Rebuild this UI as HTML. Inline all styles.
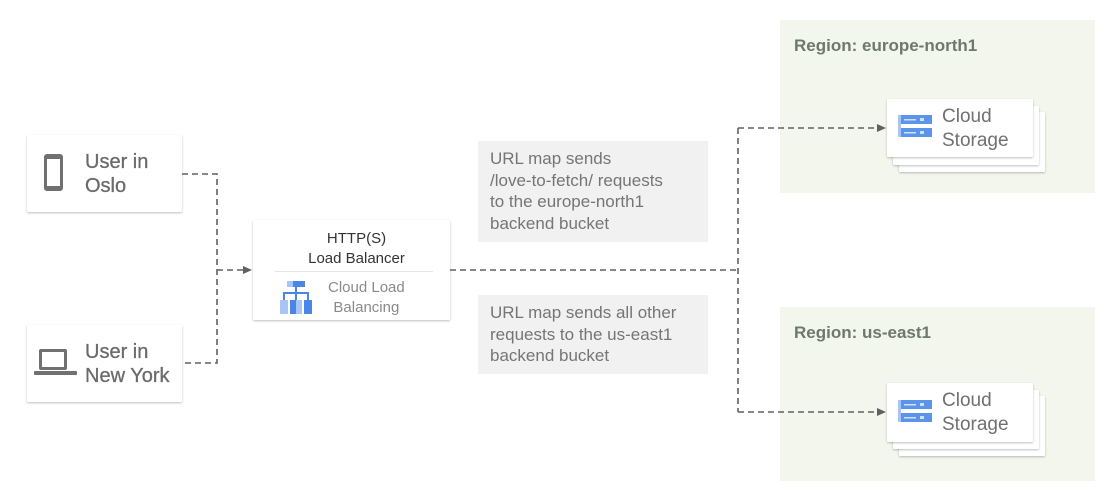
<!DOCTYPE html>
<html><head><meta charset="utf-8"><style>
body{margin:0;width:1107px;height:494px;background:#fff;position:relative;overflow:hidden;font-family:"Liberation Sans",Arial,sans-serif;}
.a{position:absolute;}
.card{position:absolute;background:#fff;box-shadow:0 1px 2px rgba(0,0,0,.25);border-radius:1px;}
.user{font-size:20px;color:#6a6a6a;line-height:24px;-webkit-text-stroke:0.3px #6a6a6a;}
.note{position:absolute;background:#f1f1f1;color:#757575;font-size:17px;line-height:21.5px;padding:7px 12px;box-sizing:border-box;}
.region{position:absolute;background:#f2f6ec;}
.rt{position:absolute;left:14px;top:16px;font-size:17px;color:#6f786b;font-weight:bold;}
.st{font-size:19px;color:#707070;line-height:24px;}
</style></head><body>

<div class="card" style="left:27px;top:135px;width:155px;height:77px;">
  <div class="a" style="left:17px;top:19px;width:19px;height:37px;border:3px solid #707070;border-radius:3px;box-sizing:border-box;border-top-width:5px;border-bottom-width:5px;background:#fff"></div>
  <div class="a user" style="left:58px;top:15px;">User in<br>Oslo</div>
</div>
<div class="card" style="left:27px;top:325px;width:155px;height:77px;">
  <div class="a" style="left:12px;top:24px;width:28px;height:21px;border:3px solid #707070;border-radius:2px;box-sizing:border-box;"></div>
  <div class="a" style="left:7px;top:46px;width:43px;height:4px;background:#707070;border-radius:1px"></div>
  <div class="a user" style="left:58px;top:15px;">User in<br>New York</div>
</div>

<div class="card" style="left:253px;top:220px;width:197px;height:100px;">
  <div class="a" style="left:0;width:197px;top:9px;text-align:center;font-size:15px;color:#333;line-height:20px;padding-left:10px;box-sizing:border-box">HTTP(S)<br>Load Balancer</div>
  <div class="a" style="left:22px;top:51px;width:158px;height:1px;background:#e4e4e4"></div>
  <svg class="a" style="left:27px;top:61px" width="34" height="33">
    <rect x="7" y="0" width="18" height="6" fill="#4a86e8"/><rect x="7" y="0" width="6" height="6" fill="#a9c4f5"/>
    <rect x="15" y="6" width="2" height="5" fill="#4a86e8"/>
    <rect x="3" y="11" width="26" height="2" fill="#4a86e8"/>
    <rect x="3" y="13" width="2" height="6" fill="#4a86e8"/><rect x="15" y="13" width="2" height="6" fill="#4a86e8"/><rect x="27" y="13" width="2" height="6" fill="#4a86e8"/>
    <rect x="0" y="19" width="8" height="14" fill="#a9c4f5"/><rect x="10" y="19" width="6" height="14" fill="#4a86e8"/><rect x="16" y="19" width="6" height="14" fill="#a9c4f5"/><rect x="24" y="19" width="8" height="14" fill="#4a86e8"/>
  </svg>
  <div class="a" style="left:75px;top:58px;font-size:15px;color:#8a8a8a;line-height:20px;text-align:center">Cloud Load<br>Balancing</div>
</div>

<div class="note" style="left:478px;top:141px;width:230px;height:101px;">URL map sends<br>/love-to-fetch/ requests<br>to the europe-north1<br>backend bucket</div>
<div class="note" style="left:478px;top:295px;width:230px;height:79px;">URL map sends all other<br>requests to the us-east1<br>backend bucket</div>

<div class="region" style="left:780px;top:20px;width:315px;height:173px;"><div class="rt">Region: europe-north1</div></div>
<div class="region" style="left:780px;top:307px;width:315px;height:174px;"><div class="rt">Region: us-east1</div></div>

<div class="card" style="left:899px;top:112px;width:146px;height:60px;"></div>
<div class="card" style="left:893px;top:106px;width:146px;height:59px;"></div>
<div class="card" style="left:887px;top:99px;width:146px;height:58px;">
  <svg class="a" style="left:11px;top:16px" width="34" height="23"><rect x="0" y="0" width="34" height="9" fill="#5c94ea"/><rect x="0" y="13" width="34" height="9" fill="#5c94ea"/><rect x="0" y="0" width="3" height="22" fill="#a9c4f5"/><rect x="6" y="4" width="12" height="1.5" fill="#cfe0fb"/><rect x="22" y="3" width="4" height="3" fill="#cfe0fb"/><rect x="6" y="17" width="12" height="1.5" fill="#cfe0fb"/><rect x="22" y="16" width="4" height="3" fill="#cfe0fb"/></svg>
  <div class="a st" style="left:55px;top:6px;">Cloud<br>Storage</div>
</div>

<div class="card" style="left:899px;top:396px;width:146px;height:60px;"></div>
<div class="card" style="left:893px;top:390px;width:146px;height:59px;"></div>
<div class="card" style="left:887px;top:383px;width:146px;height:59px;">
  <svg class="a" style="left:11px;top:17px" width="34" height="23"><rect x="0" y="0" width="34" height="9" fill="#5c94ea"/><rect x="0" y="13" width="34" height="9" fill="#5c94ea"/><rect x="0" y="0" width="3" height="22" fill="#a9c4f5"/><rect x="6" y="4" width="12" height="1.5" fill="#cfe0fb"/><rect x="22" y="3" width="4" height="3" fill="#cfe0fb"/><rect x="6" y="17" width="12" height="1.5" fill="#cfe0fb"/><rect x="22" y="16" width="4" height="3" fill="#cfe0fb"/></svg>
  <div class="a st" style="left:55px;top:6px;">Cloud<br>Storage</div>
</div>

<svg class="a" style="left:0;top:0" width="1107" height="494">
  <g fill="none" stroke="#616161" stroke-width="1.6" stroke-dasharray="6,4">
    <path d="M182 174 H217 V363 H182"/>
    <path d="M217 270 H245"/>
    <path d="M450 270 H738"/>
    <path d="M738 128 V412"/>
    <path d="M738 128 H878"/>
    <path d="M738 412 H878"/>
  </g>
  <g fill="#616161">
    <path d="M252 270 l-9 -4 v8z"/>
    <path d="M886 128 l-9 -4 v8z"/>
    <path d="M886 412 l-9 -4 v8z"/>
  </g>
</svg>
</body></html>
